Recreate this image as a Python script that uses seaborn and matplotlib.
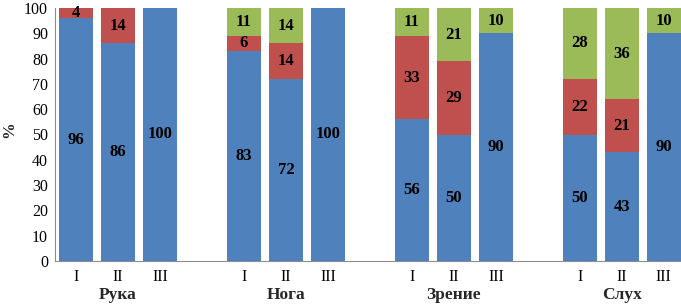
import numpy as np
import pandas as pd
import matplotlib
matplotlib.use("Agg")
import matplotlib.pyplot as plt
import seaborn as sns

# --- data ---
groups = ["Рука", "Нога", "Зрение", "Слух"]
subgroups = ["I", "II", "III"]
blue = [96, 86, 100, 83, 72, 100, 56, 50, 90, 50, 43, 90]
red = [4, 14, 0, 6, 14, 0, 33, 29, 0, 22, 21, 0]
green = [0, 0, 0, 11, 14, 0, 11, 21, 10, 28, 36, 10]

C_BLUE, C_RED, C_GREEN = "#4F81BD", "#C0504D", "#9BBB59"

sns.set_theme(style="white")
plt.rcParams["font.family"] = ["Liberation Serif", "DejaVu Serif"]

# one empty slot between groups
pos = [g * 4 + s for g in range(len(groups)) for s in range(len(subgroups))]
df = pd.DataFrame({"pos": pos, "blue": blue, "red": red, "green": green})
df["br"] = df["blue"] + df["red"]
df["total"] = df["br"] + df["green"]

fig = plt.figure(figsize=(6.81, 3.06), dpi=100)
ax = fig.add_axes([55 / 681, 1 - 261 / 306, (681 - 55) / 681, (261 - 8) / 306])

w = 0.81
# layered cumulative bars -> stacked look
sns.barplot(data=df, x="pos", y="total", native_scale=True, width=w,
            color=C_GREEN, saturation=1, ax=ax, linewidth=0)
sns.barplot(data=df, x="pos", y="br", native_scale=True, width=w,
            color=C_RED, saturation=1, ax=ax, linewidth=0)
sns.barplot(data=df, x="pos", y="blue", native_scale=True, width=w,
            color=C_BLUE, saturation=1, ax=ax, linewidth=0)

# segment labels
for _, r in df.iterrows():
    segs = [(r["blue"], 0), (r["red"], r["blue"]), (r["green"], r["br"])]
    for val, base in segs:
        if val > 0:
            ax.text(r["pos"], base + val / 2, f"{int(val)}", ha="center", va="center",
                    fontsize=12, fontweight="bold", color="black")

ax.set_xlim(-0.5, 14.41)
ax.set_ylim(0, 100)
ax.set_yticks(range(0, 101, 10))
ax.set_xticks(pos)
ax.set_xticklabels(subgroups * len(groups))
ax.tick_params(axis="both", length=0, labelsize=11.5, colors="black", pad=6)
ax.tick_params(axis="y", pad=5)
ax.set_xlabel("")
ax.set_ylabel("")
fig.text(9 / 681, 1 - 130 / 306, "%", rotation=90, ha="center", va="center",
         fontsize=12, fontweight="bold")

for sp in ["top", "right"]:
    ax.spines[sp].set_visible(False)
for sp in ["left", "bottom"]:
    ax.spines[sp].set_color("#8c8c8c")
    ax.spines[sp].set_linewidth(0.8)

# group names under the sub-ticks
for g, name in enumerate(groups):
    ax.text(g * 4 + 1, -13.6, name, ha="center", va="center", fontsize=12.5,
            fontweight="bold", transform=ax.transData, clip_on=False)

fig.savefig("out.png", dpi=100)
